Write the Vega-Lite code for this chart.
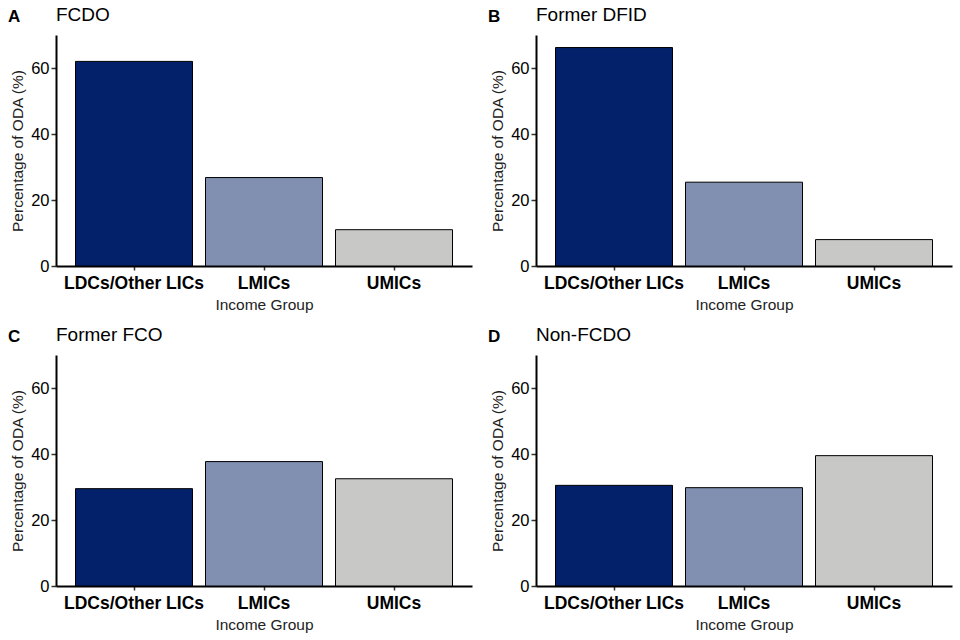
{
  "$schema": "https://vega.github.io/schema/vega-lite/v6.json",
  "padding": {"left": 8, "top": 6, "right": 5, "bottom": 5},
  "background": "white",
  "datasets": {
    "fcdo": [
      {"group": "LDCs/Other LICs", "value": 62.0},
      {"group": "LMICs", "value": 26.8},
      {"group": "UMICs", "value": 11.0}
    ],
    "dfid": [
      {"group": "LDCs/Other LICs", "value": 66.2},
      {"group": "LMICs", "value": 25.4},
      {"group": "UMICs", "value": 8.0}
    ],
    "fco": [
      {"group": "LDCs/Other LICs", "value": 29.5},
      {"group": "LMICs", "value": 37.7},
      {"group": "UMICs", "value": 32.5}
    ],
    "nonfcdo": [
      {"group": "LDCs/Other LICs", "value": 30.5},
      {"group": "LMICs", "value": 29.8},
      {"group": "UMICs", "value": 39.5}
    ]
  },
  "config": {
    "font": "Liberation Sans",
    "view": {"stroke": null},
    "axis": {
      "grid": false,
      "domainColor": "black",
      "domainWidth": 2,
      "tickColor": "#333333",
      "tickWidth": 1.5,
      "labelColor": "black",
      "labelFont": "Liberation Sans",
      "titleFont": "Liberation Sans",
      "titleFontWeight": "normal",
      "titleColor": "#222222",
      "titleFontSize": 15.5
    },
    "axisX": {
      "labelFontWeight": "bold",
      "labelFontSize": 17.5,
      "labelAngle": 0,
      "tickSize": 4,
      "labelPadding": 4,
      "titlePadding": 6
    },
    "axisY": {
      "labelFontSize": 16.5,
      "tickSize": 5,
      "labelPadding": 2,
      "titlePadding": 5
    },
    "title": {
      "font": "Liberation Sans",
      "fontWeight": "normal",
      "fontSize": 19,
      "color": "black",
      "anchor": "start",
      "frame": "group",
      "offset": 10
    }
  },
  "spacing": 13,
  "vconcat": [
    {
      "spacing": 16,
      "hconcat": [
        {
          "title": {"text": "A", "fontWeight": "bold", "fontSize": 17, "offset": 0, "dy": 20, "dx": -48},
          "vconcat": [
            {
              "width": 416, "height": 231,
              "title": {"text": "FCDO"},
              "data": {"name": "fcdo"},
              "mark": {"type": "bar", "stroke": "black", "strokeWidth": 1},
              "encoding": {
                "x": {"field": "group", "type": "nominal", "sort": ["LDCs/Other LICs", "LMICs", "UMICs"], "title": "Income Group", "scale": {"paddingInner": 0.1, "paddingOuter": 0.15}},
                "y": {"field": "value", "type": "quantitative", "title": "Percentage of ODA (%)", "scale": {"domain": [0, 70], "nice": false}, "axis": {"values": [0, 20, 40, 60]}},
                "color": {"field": "group", "type": "nominal", "scale": {"domain": ["LDCs/Other LICs", "LMICs", "UMICs"], "range": ["#03216a", "#8190b1", "#c8c8c6"]}, "legend": null}
              }
            }
          ]
        },
        {
          "title": {"text": "B", "fontWeight": "bold", "fontSize": 17, "offset": 0, "dy": 20, "dx": -48},
          "vconcat": [
            {
              "width": 416, "height": 231,
              "title": {"text": "Former DFID"},
              "data": {"name": "dfid"},
              "mark": {"type": "bar", "stroke": "black", "strokeWidth": 1},
              "encoding": {
                "x": {"field": "group", "type": "nominal", "sort": ["LDCs/Other LICs", "LMICs", "UMICs"], "title": "Income Group", "scale": {"paddingInner": 0.1, "paddingOuter": 0.15}},
                "y": {"field": "value", "type": "quantitative", "title": "Percentage of ODA (%)", "scale": {"domain": [0, 70], "nice": false}, "axis": {"values": [0, 20, 40, 60]}},
                "color": {"field": "group", "type": "nominal", "scale": {"domain": ["LDCs/Other LICs", "LMICs", "UMICs"], "range": ["#03216a", "#8190b1", "#c8c8c6"]}, "legend": null}
              }
            }
          ]
        }
      ]
    },
    {
      "spacing": 16,
      "hconcat": [
        {
          "title": {"text": "C", "fontWeight": "bold", "fontSize": 17, "offset": 0, "dy": 20, "dx": -48},
          "vconcat": [
            {
              "width": 416, "height": 231,
              "title": {"text": "Former FCO"},
              "data": {"name": "fco"},
              "mark": {"type": "bar", "stroke": "black", "strokeWidth": 1},
              "encoding": {
                "x": {"field": "group", "type": "nominal", "sort": ["LDCs/Other LICs", "LMICs", "UMICs"], "title": "Income Group", "scale": {"paddingInner": 0.1, "paddingOuter": 0.15}},
                "y": {"field": "value", "type": "quantitative", "title": "Percentage of ODA (%)", "scale": {"domain": [0, 70], "nice": false}, "axis": {"values": [0, 20, 40, 60]}},
                "color": {"field": "group", "type": "nominal", "scale": {"domain": ["LDCs/Other LICs", "LMICs", "UMICs"], "range": ["#03216a", "#8190b1", "#c8c8c6"]}, "legend": null}
              }
            }
          ]
        },
        {
          "title": {"text": "D", "fontWeight": "bold", "fontSize": 17, "offset": 0, "dy": 20, "dx": -48},
          "vconcat": [
            {
              "width": 416, "height": 231,
              "title": {"text": "Non-FCDO"},
              "data": {"name": "nonfcdo"},
              "mark": {"type": "bar", "stroke": "black", "strokeWidth": 1},
              "encoding": {
                "x": {"field": "group", "type": "nominal", "sort": ["LDCs/Other LICs", "LMICs", "UMICs"], "title": "Income Group", "scale": {"paddingInner": 0.1, "paddingOuter": 0.15}},
                "y": {"field": "value", "type": "quantitative", "title": "Percentage of ODA (%)", "scale": {"domain": [0, 70], "nice": false}, "axis": {"values": [0, 20, 40, 60]}},
                "color": {"field": "group", "type": "nominal", "scale": {"domain": ["LDCs/Other LICs", "LMICs", "UMICs"], "range": ["#03216a", "#8190b1", "#c8c8c6"]}, "legend": null}
              }
            }
          ]
        }
      ]
    }
  ]
}
